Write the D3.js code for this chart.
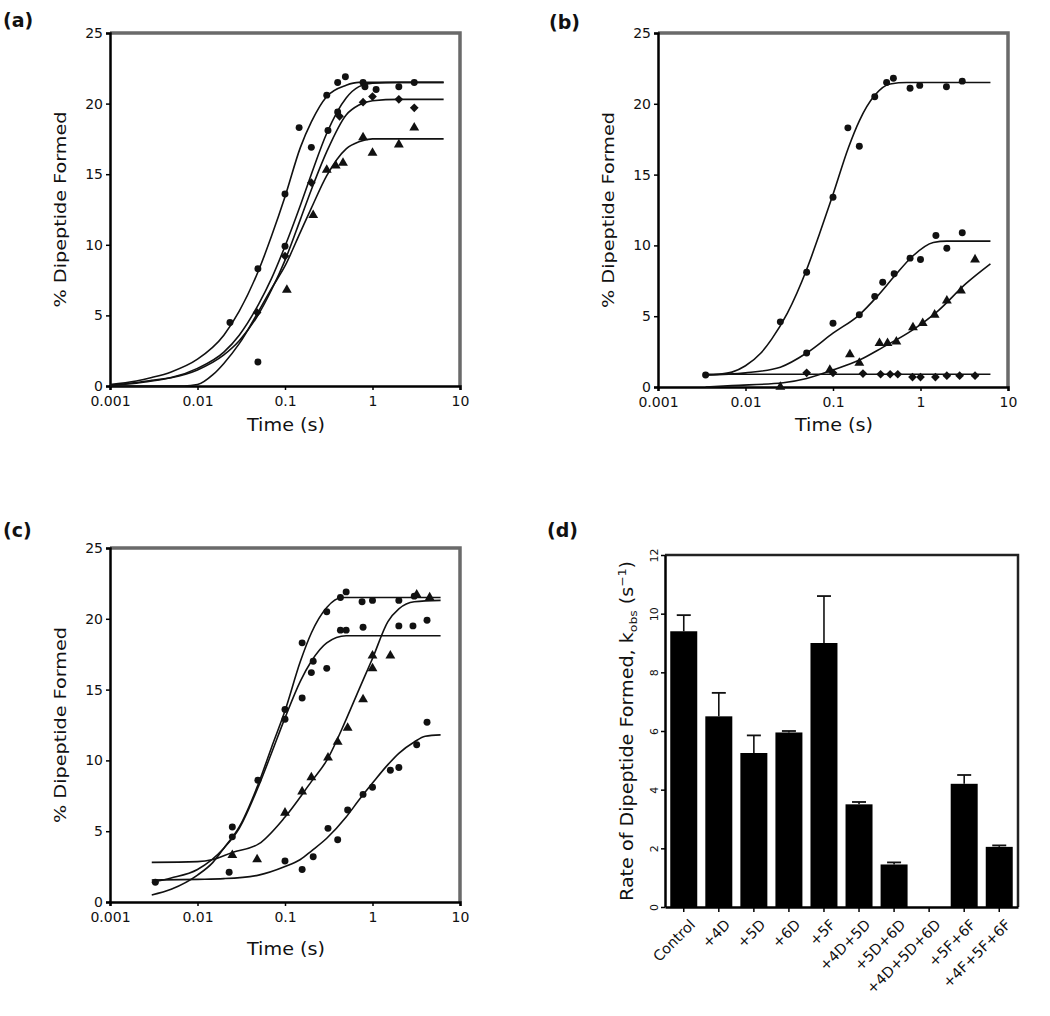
<!DOCTYPE html>
<html><head><meta charset="utf-8">
<script src="https://cdn.jsdelivr.net/npm/d3@7"></script>
<style>
body{margin:0;background:#fff}
svg{display:block}
text{font-family:"DejaVu Sans",Arial,sans-serif;fill:#111}
</style>
</head><body>
<svg id="c" width="1050" height="1016"></svg>
<script>
// ---------- shared ticks ----------
const timeTicks = [0.001, 0.01, 0.1, 1, 10];
const timeTickLabels = ["0.001", "0.01", "0.1", "1", "10"];
const pctTicks = [0, 5, 10, 15, 20, 25];

// ---------- panel (a) ----------
const aCurve1 = [[0.001,0.1],[0.002,0.35],[0.003,0.6],[0.005,1.0],[0.01,1.9],[0.02,3.6],[0.03,5.3],[0.05,8.2],[0.07,10.6],[0.1,13.4],[0.15,16.9],[0.2,18.7],[0.3,20.5],[0.5,21.3],[0.7,21.5],[1,21.5],[6.5,21.5]];
const aCurve2 = [[0.001,0.05],[0.002,0.25],[0.003,0.4],[0.005,0.6],[0.01,1.25],[0.02,2.4],[0.03,3.6],[0.05,5.8],[0.07,7.6],[0.1,9.9],[0.15,12.8],[0.2,15.0],[0.3,17.9],[0.5,20.4],[0.7,21.2],[1,21.45],[2,21.5],[6.5,21.5]];
const aCurve3 = [[0.001,0.05],[0.002,0.2],[0.003,0.35],[0.005,0.58],[0.01,1.14],[0.02,2.2],[0.03,3.2],[0.05,5.1],[0.07,6.8],[0.1,8.9],[0.15,11.8],[0.2,13.9],[0.3,16.6],[0.5,19.2],[0.7,19.9],[1,20.2],[2,20.3],[6.5,20.3]];
const aCurve4 = [[0.001,0],[0.007,0],[0.01,0.1],[0.015,0.8],[0.02,1.6],[0.03,3.0],[0.05,5.3],[0.07,6.9],[0.1,8.5],[0.15,10.9],[0.2,12.6],[0.3,14.9],[0.5,16.8],[0.7,17.3],[1,17.5],[6.5,17.5]];
const aPts1 = [[0.0235,4.5],[0.049,8.3],[0.1,13.6],[0.145,18.3],[0.3,20.6],[0.4,21.5],[0.49,21.9],[0.78,21.5],[2.0,21.2],[3.0,21.5]];
const aPts2 = [[0.049,1.7],[0.1,9.9],[0.2,16.9],[0.31,18.1],[0.4,19.4],[0.82,21.2],[1.1,21.0]];
const aPts3 = [[0.048,5.2],[0.1,9.2],[0.2,14.4],[0.42,19.1],[0.78,20.1],[1.0,20.5],[2.0,20.3],[3.0,19.7]];
const aPts4 = [[0.105,6.8],[0.21,12.1],[0.3,15.3],[0.38,15.6],[0.46,15.8],[0.78,17.6],[1.0,16.5],[2.0,17.1],[3.0,18.3]];

// ---------- panel (b) ----------
const bCurve1 = [[0.0035,0.85],[0.005,0.9],[0.007,1.05],[0.01,1.5],[0.015,2.4],[0.02,3.4],[0.03,5.2],[0.05,8.3],[0.07,10.8],[0.1,13.6],[0.15,16.9],[0.2,18.8],[0.3,20.6],[0.45,21.4],[0.7,21.5],[6.3,21.5]];
const bCurve2 = [[0.0035,0.85],[0.01,1.0],[0.025,1.4],[0.05,2.4],[0.1,3.8],[0.2,5.1],[0.32,6.4],[0.5,7.8],[0.8,9.2],[1.4,10.2],[2,10.3],[6.3,10.3]];
const bCurve3 = [[0.0035,0],[0.007,0.1],[0.027,0.3],[0.05,0.6],[0.1,1.2],[0.2,1.9],[0.37,2.8],[0.8,4.0],[1.6,5.4],[3.3,7.3],[6.3,8.7]];
const bCurve4 = [[0.0035,0.9],[6.3,0.9]];
const bPts1 = [[0.0035,0.85],[0.025,4.6],[0.05,8.1],[0.1,13.4],[0.148,18.3],[0.2,17.0],[0.3,20.5],[0.41,21.5],[0.49,21.8],[0.76,21.1],[0.98,21.3],[1.98,21.2],[3.0,21.6]];
const bPts2 = [[0.05,2.4],[0.1,4.5],[0.2,5.1],[0.3,6.4],[0.37,7.4],[0.5,8.0],[0.76,9.1],[1.0,9.0],[1.5,10.7],[2.0,9.8],[3.0,10.9]];
const bPts3 = [[0.025,0.0],[0.092,1.2],[0.156,2.3],[0.2,1.7],[0.34,3.1],[0.42,3.1],[0.53,3.2],[0.82,4.2],[1.06,4.5],[1.45,5.1],[2.0,6.1],[2.9,6.8],[4.2,9.0]];
const bPts4 = [[0.05,1.0],[0.1,1.0],[0.22,0.95],[0.35,0.9],[0.45,0.9],[0.55,0.9],[0.81,0.7],[1.0,0.7],[1.48,0.7],[2.0,0.8],[2.8,0.8],[4.2,0.8]];

// ---------- panel (c) ----------
const cCurve1 = [[0.003,0.5],[0.005,0.9],[0.01,1.9],[0.015,2.8],[0.02,3.8],[0.03,5.3],[0.05,8.4],[0.07,10.9],[0.1,13.5],[0.15,17.0],[0.2,19.0],[0.3,20.8],[0.45,21.5],[1,21.5],[6,21.5]];
const cCurve2 = [[0.003,1.4],[0.005,1.7],[0.01,2.3],[0.02,3.8],[0.03,5.2],[0.05,8.2],[0.07,10.5],[0.1,13.0],[0.15,15.6],[0.2,17.0],[0.3,18.3],[0.5,18.8],[1,18.8],[6,18.8]];
const cCurve3 = [[0.003,2.8],[0.01,2.85],[0.015,3.0],[0.025,3.5],[0.05,4.1],[0.1,6.0],[0.2,8.5],[0.3,10.0],[0.5,12.9],[0.7,15.0],[1,17.2],[1.5,19.8],[2,20.7],[3,21.2],[6,21.3]];
const cCurve4 = [[0.003,1.55],[0.01,1.6],[0.02,1.65],[0.05,1.9],[0.1,2.5],[0.15,3.0],[0.2,3.6],[0.3,4.5],[0.5,6.0],[0.7,7.2],[1,8.4],[1.5,9.7],[2,10.5],[3,11.3],[4,11.7],[6,11.8]];
const cPts1 = [[0.025,5.3],[0.049,8.6],[0.1,13.6],[0.157,18.3],[0.3,20.5],[0.43,21.5],[0.5,21.9],[0.76,21.2],[1.0,21.3],[2.0,21.3],[3.0,21.6]];
const cPts2 = [[0.025,4.6],[0.1,12.9],[0.157,14.4],[0.2,16.2],[0.21,17.0],[0.3,16.5],[0.43,19.2],[0.5,19.2],[0.78,19.4],[2.0,19.5],[2.9,19.5],[4.2,19.9]];
const cPts3 = [[0.025,3.3],[0.048,3.0],[0.1,6.3],[0.157,7.8],[0.2,8.8],[0.31,10.2],[0.4,11.3],[0.52,12.3],[0.78,14.3],[1.0,16.5],[1.0,17.4],[1.6,17.4],[3.2,21.7],[4.5,21.5]];
const cPts4 = [[0.0033,1.4],[0.023,2.1],[0.1,2.9],[0.157,2.3],[0.21,3.2],[0.31,5.2],[0.4,4.4],[0.52,6.5],[0.78,7.6],[1.0,8.1],[1.6,9.3],[2.0,9.5],[3.2,11.1],[4.2,12.7]];

// ---------- panel (d) ----------
const dCategories = ["Control","+4D","+5D","+6D","+5F","+4D+5D","+5D+6D","+4D+5D+6D","+5F+6F","+4F+5F+6F"];
const dRates = [9.4, 6.5, 5.25, 5.95, 9.0, 3.5, 1.45, 0, 4.2, 2.05];
const dErrors = [0.55, 0.8, 0.6, 0.05, 1.6, 0.08, 0.07, 0, 0.3, 0.05];
const dTicks = [0, 2, 4, 6, 8, 10, 12];

const svg = d3.select("#c");

function styleAxis(sel) {
  sel.select(".domain").attr("stroke", "#000").attr("stroke-width", 2.5);
  sel.selectAll(".tick line").attr("stroke", "#000").attr("stroke-width", 1.5);
  sel.selectAll(".tick text").attr("font-family", "DejaVu Sans, Arial, sans-serif").attr("fill", "#222");
}

function linePanel(cfg) {
  const x = d3.scaleLog().domain([0.001, 10]).range([cfg.l, cfg.r]);
  const y = d3.scaleLinear().domain([0, 25]).range([cfg.b, cfg.t]);
  const g = svg.append("g");
  g.append("path")
    .attr("d", `M${cfg.l},${cfg.t}H${cfg.r}V${cfg.b}`)
    .attr("fill", "none").attr("stroke", "#6a6a6a").attr("stroke-width", 3.5);
  const xa = g.append("g").attr("transform", `translate(0,${cfg.b})`)
    .call(d3.axisBottom(x).tickValues(timeTicks).tickFormat((d, i) => timeTickLabels[i]).tickSizeOuter(0).tickSize(4).tickPadding(6));
  styleAxis(xa);
  xa.selectAll(".tick text").attr("font-size", 14);
  const ya = g.append("g").attr("transform", `translate(${cfg.l},0)`)
    .call(d3.axisLeft(y).tickValues(pctTicks).tickSizeOuter(0).tickSize(4).tickPadding(3));
  styleAxis(ya);
  ya.selectAll(".tick text").attr("font-size", 14);

  const line = d3.line().x(d => x(d[0])).y(d => y(d[1])).curve(d3.curveMonotoneX);
  cfg.curves.forEach(c => {
    g.append("path").attr("d", line(c)).attr("fill", "none")
      .attr("stroke", "#111").attr("stroke-width", 1.6);
  });
  cfg.points.forEach((p, i) => {
    const sym = cfg.symbols[i];
    const rot = cfg.rotate ? cfg.rotate[i] : 0;
    g.append("g").selectAll("path").data(p).join("path")
      .attr("d", d3.symbol().type(sym).size(sym === d3.symbolTriangle ? 42 : 38))
      .attr("transform", d => `translate(${x(d[0])},${y(d[1])}) rotate(${rot})`)
      .attr("fill", "#111");
  });
  // axis titles
  const cy = (cfg.t + cfg.b) / 2;
  g.append("text").attr("transform", `translate(${cfg.yTitleX},${cy}) rotate(-90)`)
    .attr("text-anchor", "middle").attr("font-size", 16)
    .attr("textLength", 196).attr("lengthAdjust", "spacingAndGlyphs")
    .text("% Dipeptide Formed");
  g.append("text").attr("x", (cfg.l + cfg.r) / 2 + 1).attr("y", cfg.xTitleY)
    .attr("text-anchor", "middle").attr("font-size", 17)
    .attr("textLength", 78).attr("lengthAdjust", "spacingAndGlyphs")
    .text("Time (s)");
  svg.append("text").attr("x", cfg.labX).attr("y", cfg.labY)
    .attr("font-size", 19).attr("font-weight", "bold").attr("fill", "#000")
    .attr("font-family", "Liberation Sans, Arial, sans-serif")
    .text(cfg.label);
}

linePanel({
  l: 110, r: 460, t: 33, b: 386, yTitleX: 66, xTitleY: 431, labX: 3, labY: 27, label: "(a)",
  curves: [aCurve1, aCurve2, aCurve3, aCurve4],
  points: [aPts1, aPts2, aPts3, aPts4],
  symbols: [d3.symbolCircle, d3.symbolCircle, d3.symbolSquare, d3.symbolTriangle],
  rotate: [0, 0, 45, 0]
});
linePanel({
  l: 658, r: 1008, t: 33, b: 387, yTitleX: 614, xTitleY: 431, labX: 549, labY: 29, label: "(b)",
  curves: [bCurve1, bCurve2, bCurve3, bCurve4],
  points: [bPts1, bPts2, bPts3, bPts4],
  symbols: [d3.symbolCircle, d3.symbolCircle, d3.symbolTriangle, d3.symbolSquare],
  rotate: [0, 0, 0, 45]
});
linePanel({
  l: 110, r: 460, t: 548, b: 902, yTitleX: 66, xTitleY: 955, labX: 3, labY: 537, label: "(c)",
  curves: [cCurve1, cCurve2, cCurve3, cCurve4],
  points: [cPts1, cPts2, cPts3, cPts4],
  symbols: [d3.symbolCircle, d3.symbolCircle, d3.symbolTriangle, d3.symbolCircle],
  rotate: [0, 0, 0, 0]
});

// ---------- bar panel (d) ----------
(function () {
  const l = 665, r = 1018, t = 555, b = 907;
  const x = d3.scaleBand().domain(dCategories).range([l, r]).paddingInner(0.23).paddingOuter(0.15);
  const y = d3.scaleLinear().domain([0, 12]).range([b, t]);
  const g = svg.append("g");
  g.append("path").attr("d", `M${l},${t}H${r}V${b}`)
    .attr("fill", "none").attr("stroke", "#222").attr("stroke-width", 2.5);

  // error bars (upper only)
  g.append("g").selectAll("g").data(dCategories).join("g").each(function (c, i) {
    if (dErrors[i] <= 0) return;
    const cx = x(c) + x.bandwidth() / 2;
    const top = y(dRates[i] + dErrors[i]);
    d3.select(this).append("line").attr("x1", cx).attr("x2", cx)
      .attr("y1", y(dRates[i])).attr("y2", top).attr("stroke", "#111").attr("stroke-width", 1.6);
    d3.select(this).append("line").attr("x1", cx - 7).attr("x2", cx + 7)
      .attr("y1", top).attr("y2", top).attr("stroke", "#111").attr("stroke-width", 1.8);
  });
  g.append("g").selectAll("rect").data(dCategories).join("rect")
    .attr("x", c => x(c)).attr("width", x.bandwidth())
    .attr("y", (c, i) => y(dRates[i])).attr("height", (c, i) => b - y(dRates[i]))
    .attr("fill", "#000");

  const xa = g.append("g").attr("transform", `translate(0,${b})`)
    .call(d3.axisBottom(x).tickSize(5).tickSizeOuter(0).tickPadding(4));
  styleAxis(xa);
  xa.selectAll(".tick text").attr("font-size", 14.5)
    .attr("text-anchor", "end")
    .attr("transform", "translate(3,5) rotate(-45)")
    .attr("dy", "0.5em").attr("dx", "-0.2em");
  const ya = g.append("g").attr("transform", `translate(${l},0)`)
    .call(d3.axisLeft(y).tickValues(dTicks).tickSize(4).tickSizeOuter(0));
  styleAxis(ya);
  ya.selectAll(".tick text").attr("font-size", 11)
    .attr("x", 0).attr("dy", 0).attr("text-anchor", "middle")
    .attr("transform", "translate(-7,0) rotate(-90)");

  const tt = g.append("text").attr("transform", `translate(633,${(t + b) / 2}) rotate(-90)`)
    .attr("text-anchor", "middle").attr("font-size", 17)
    .attr("textLength", 340).attr("lengthAdjust", "spacingAndGlyphs");
  tt.append("tspan").text("Rate of Dipeptide Formed, k");
  tt.append("tspan").attr("font-size", 11).attr("dy", 4).text("obs");
  tt.append("tspan").attr("dy", -4).text(" (s");
  tt.append("tspan").attr("font-size", 11).attr("dy", -7).text("−1");
  tt.append("tspan").attr("dy", 7).text(")");

  svg.append("text").attr("x", 547).attr("y", 537)
    .attr("font-size", 19).attr("font-weight", "bold").attr("fill", "#000")
    .attr("font-family", "Liberation Sans, Arial, sans-serif")
    .text("(d)");
})();
</script>
</body></html>
